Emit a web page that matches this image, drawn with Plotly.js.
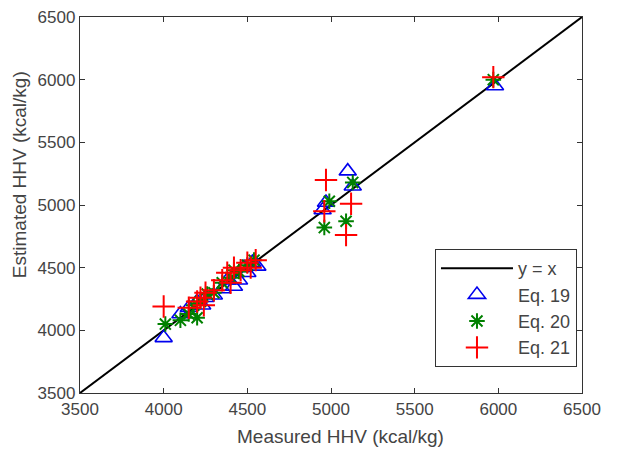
<!DOCTYPE html>
<html>
<head>
<meta charset="utf-8">
<script src="https://cdn.plot.ly/plotly-3.0.1.min.js"></script>
<style>
  html, body { margin: 0; padding: 0; background: #fff; }
  #chart { width: 617px; height: 452px; }
</style>
</head>
<body>
<div id="chart"></div>
<script>
// Reference line y = x
const lineX = [3500, 6500];
const lineY = [3500, 6500];

// Eq. 19 estimates
const eq19Measured  = [4000, 4100, 4150, 4200, 4230, 4250, 4300, 4350, 4380, 4420, 4450, 4480, 4500, 4530, 4560, 4950, 4970, 5100, 5130, 5980];
const eq19Estimated = [3940, 4130, 4180, 4230, 4200, 4260, 4280, 4330, 4400, 4350, 4400, 4500, 4460, 4540, 4510, 4960, 5020, 5270, 5150, 5950];

// Eq. 20 estimates
const eq20Measured  = [4010, 4100, 4150, 4180, 4200, 4220, 4260, 4300, 4350, 4400, 4420, 4450, 4500, 4540, 4960, 4990, 5090, 5130, 5970];
const eq20Estimated = [4050, 4080, 4130, 4200, 4100, 4230, 4290, 4300, 4380, 4420, 4480, 4470, 4520, 4560, 4820, 5030, 4870, 5180, 6000];

// Eq. 21 estimates
const eq21Measured  = [4000, 4150, 4200, 4220, 4240, 4250, 4300, 4350, 4380, 4400, 4420, 4460, 4500, 4520, 4550, 4960, 4970, 5090, 5120, 5970];
const eq21Estimated = [4190, 4180, 4230, 4260, 4200, 4300, 4320, 4400, 4460, 4380, 4500, 4480, 4540, 4500, 4560, 4950, 5200, 4760, 5010, 6020];

const tickVals = [3500, 4000, 4500, 5000, 5500, 6000, 6500];

const xTitle = 'Measured HHV (kcal/kg)';
const yTitle = 'Estimated HHV (kcal/kg)';

const traces = [
  {
    x: lineX, y: lineY, mode: 'lines', name: 'y = x',
    line: { color: '#000000', width: 2 }
  },
  {
    x: eq19Measured, y: eq19Estimated, mode: 'markers', name: 'Eq. 19',
    marker: { symbol: 'triangle-up-open', size: 15, color: '#0000ee', line: { width: 1.6, color: '#0000ee' } }
  },
  {
    x: eq20Measured, y: eq20Estimated, mode: 'markers', name: 'Eq. 20',
    marker: { symbol: 'asterisk-open', size: 13, color: '#008000', line: { width: 2, color: '#008000' } }
  },
  {
    x: eq21Measured, y: eq21Estimated, mode: 'markers', name: 'Eq. 21',
    marker: { symbol: 'cross-thin-open', size: 16, color: '#ff0000', line: { width: 2, color: '#ff0000' } }
  }
];

const axisCommon = {
  range: [3500, 6500],
  tickvals: tickVals,
  ticks: 'inside',
  ticklen: 5,
  tickwidth: 1,
  tickcolor: '#333',
  showline: true,
  linecolor: '#333',
  linewidth: 1.2,
  mirror: 'ticks',
  showgrid: false,
  zeroline: false,
  ticklabelstandoff: 0,
  tickfont: { size: 17, color: '#444' }
};

const layout = {
  width: 617,
  height: 452,
  margin: { l: 80, r: 35, t: 17, b: 59 },
  paper_bgcolor: '#ffffff',
  plot_bgcolor: '#ffffff',
  font: { family: 'Liberation Sans, Arial, sans-serif', size: 17, color: '#444' },
  showlegend: true,
  legend: {
    x: 0.99, xanchor: 'right',
    y: 0.383, yanchor: 'top',
    bgcolor: '#ffffff',
    bordercolor: '#333',
    borderwidth: 1,
    itemwidth: 72,
    tracegroupgap: 0,
    font: { size: 18, color: '#444' }
  },
  xaxis: Object.assign({}, axisCommon),
  yaxis: Object.assign({}, axisCommon),
  annotations: [
    {
      text: xTitle, xref: 'paper', yref: 'paper',
      x: 0.518, y: -0.117, xanchor: 'center', yanchor: 'middle',
      showarrow: false, font: { size: 19, color: '#444' }
    },
    {
      text: yTitle, xref: 'paper', yref: 'paper',
      x: -0.119, y: 0.58, xanchor: 'center', yanchor: 'middle',
      textangle: -90, showarrow: false, font: { size: 19, color: '#444' }
    }
  ]
};

Plotly.newPlot('chart', traces, layout, { displayModeBar: false, staticPlot: true });
</script>
</body>
</html>
